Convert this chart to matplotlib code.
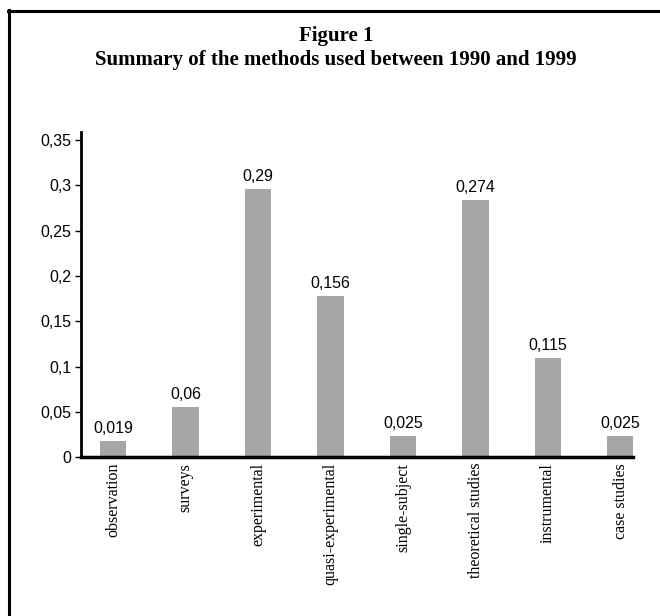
import matplotlib.pyplot as plt
from matplotlib.lines import Line2D

# Données
methods = ['observation', 'surveys', 'experimental', 'quasi-experimental',
           'single-subject', 'theoretical studies', 'instrumental', 'case studies']
bar_heights = [0.018, 0.056, 0.296, 0.178, 0.024, 0.284, 0.110, 0.024]
value_labels = ['0,019', '0,06', '0,29', '0,156', '0,025', '0,274', '0,115', '0,025']
y_ticks = [0, 0.05, 0.1, 0.15, 0.2, 0.25, 0.3, 0.35]
y_tick_labels = ['0', '0,05', '0,1', '0,15', '0,2', '0,25', '0,3', '0,35']

fig = plt.figure(figsize=(6.6, 6.16), dpi=100)
fig.patch.set_facecolor('white')

# Cadre (bord gauche et haut seulement visibles)
fig.add_artist(Line2D([9 / 660, 9 / 660], [0, 1 - 10 / 616], color='black', lw=2.2,
                      transform=fig.transFigure))
fig.add_artist(Line2D([8 / 660, 1], [1 - 11 / 616, 1 - 11 / 616], color='black', lw=2.2,
                      transform=fig.transFigure))

# Titre
fig.text(336 / 660, 1 - 41 / 616, 'Figure 1', ha='center', va='baseline',
         family='Liberation Serif', fontweight='bold', fontsize=15)
fig.text(336 / 660, 1 - 65 / 616, 'Summary of the methods used between 1990 and 1999',
         ha='center', va='baseline', family='Liberation Serif', fontweight='bold', fontsize=15)

ax = fig.add_axes([81 / 660, 1 - 457.3 / 616, (633 - 81) / 660, (457.3 - 131.7) / 616])
x = list(range(len(methods)))
ax.bar(x, bar_heights, width=0.36, color='#a6a6a6', zorder=2)

for xi, h, lab in zip(x, bar_heights, value_labels):
    ax.annotate(lab, (xi, h), xytext=(0, 3.5), textcoords='offset points',
                ha='center', va='bottom', family='Liberation Sans', fontsize=11.5)

ax.set_xlim(-0.441, 7.172)
ax.set_ylim(0, 0.359)
ax.set_yticks(y_ticks)
ax.set_yticklabels(y_tick_labels, family='Liberation Sans', fontsize=11.5)
ax.set_xticks(x)
ax.set_xticklabels(methods, rotation=90, family='Liberation Serif', fontsize=11.5)
ax.tick_params(axis='x', length=0, pad=4)
ax.tick_params(axis='y', length=4, width=1, pad=3)

for side in ['top', 'right']:
    ax.spines[side].set_visible(False)
ax.spines['left'].set_linewidth(2)
ax.spines['bottom'].set_linewidth(2.5)

fig.savefig('out.png', dpi=100)
